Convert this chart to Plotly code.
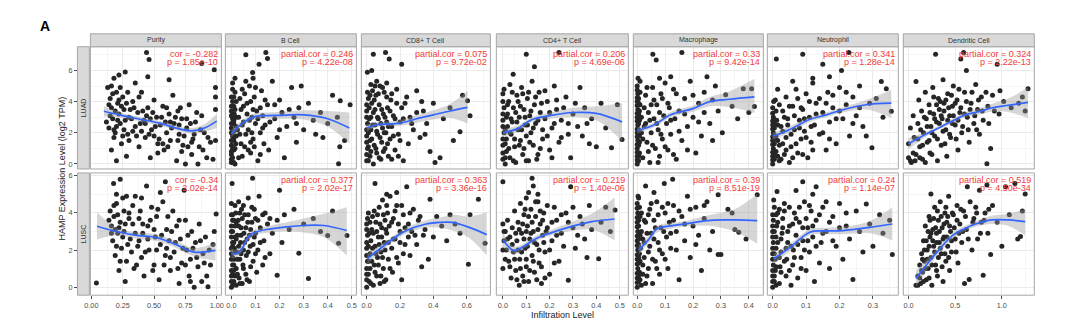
import plotly.graph_objects as go

# ---------------- data ----------------
cell_types = ["Purity", "B Cell", "CD8+ T Cell", "CD4+ T Cell", "Macrophage", "Neutrophil", "Dendritic Cell"]
cancers = ["LUAD", "LUSC"]

x_tickvals = [
    [0, 0.25, 0.5, 0.75, 1.0],
    [0, 0.1, 0.2, 0.3, 0.4, 0.5],
    [0, 0.2, 0.4, 0.6],
    [0, 0.1, 0.2, 0.3, 0.4, 0.5],
    [0, 0.1, 0.2, 0.3, 0.4],
    [0, 0.1, 0.2, 0.3],
    [0, 0.5, 1.0],
]
x_ticktext = [
    ["0.00", "0.25", "0.50", "0.75", "1.00"],
    ["0.0", "0.1", "0.2", "0.3", "0.4", "0.5"],
    ["0.0", "0.2", "0.4", "0.6"],
    ["0.0", "0.1", "0.2", "0.3", "0.4", "0.5"],
    ["0.0", "0.1", "0.2", "0.3", "0.4"],
    ["0.0", "0.1", "0.2", "0.3"],
    ["0.0", "0.5", "1.0"],
]
y_tickvals = [0, 2, 4, 6]
y_ticktext = ["0", "2", "4", "6"]

cor_labels = [
    ["cor = -0.282", "partial.cor = 0.246", "partial.cor = 0.075", "partial.cor = 0.206",
     "partial.cor = 0.33", "partial.cor = 0.341", "partial.cor = 0.324"],
    ["cor = -0.34", "partial.cor = 0.377", "partial.cor = 0.363", "partial.cor = 0.219",
     "partial.cor = 0.39", "partial.cor = 0.24", "partial.cor = 0.519"],
]
p_labels = [
    ["p = 1.85e-10", "p = 4.22e-08", "p = 9.72e-02", "p = 4.69e-06",
     "p = 9.42e-14", "p = 1.28e-14", "p = 2.22e-13"],
    ["p = 2.02e-14", "p = 2.02e-17", "p = 3.36e-16", "p = 1.40e-06",
     "p = 8.51e-19", "p = 1.14e-07", "p = 4.50e-34"],
]

# ---- LUAD scatter points ----
luad_purity_x = [0.44,0.46,0.88,0.98,0.27,0.22,0.45,0.62,0.18,0.35,0.13,0.15,0.16,0.17,0.14,0.18,0.2,0.21,0.22,0.23,0.19,0.24,0.25,0.26,0.27,0.28,0.3,0.29,0.2,0.12,0.16,0.33,0.35,0.37,0.38,0.4,0.42,0.43,0.45,0.47,0.48,0.5,0.52,0.53,0.55,0.57,0.58,0.6,0.62,0.63,0.65,0.66,0.68,0.7,0.69,0.72,0.73,0.75,0.76,0.78,0.8,0.81,0.83,0.85,0.86,0.88,0.9,0.92,0.95,0.97,0.99,0.99,0.99,0.99]
luad_purity_y = [7.15,6.7,6.45,6.05,5.9,5.7,5.6,5.4,5.5,5.2,4.9,4.2,3.6,2.9,2.3,1.7,4.6,3.9,3.2,2.6,2.0,1.3,4.3,3.5,2.8,0.5,3.0,1.9,0.2,2.7,0.9,4.0,2.4,3.3,1.1,4.6,2.8,1.7,3.6,0.4,2.2,4.1,3.0,1.3,2.5,3.7,0.9,2.0,3.2,1.5,4.4,2.6,0.2,1.9,3.4,2.9,1.2,0.0,2.3,3.8,0.6,1.6,2.7,0.0,1.1,3.1,2.0,0.4,1.4,0.3,4.9,4.3,3.5,1.5]
luad_purity_more = [(0.15,3.1),(0.17,4.5),(0.19,3.4),(0.2,2.4),(0.22,4.1),(0.24,3.7),(0.26,2.2),(0.28,3.9),(0.3,1.5),(0.32,2.9),(0.34,3.6),(0.36,1.8),(0.38,4.3),(0.4,2.1),(0.41,3.4),(0.43,2.6),(0.46,1.9),(0.49,3.3),(0.51,2.4),(0.54,1.6),(0.56,3.0),(0.59,2.7),(0.61,1.1),(0.64,2.3),(0.67,3.0),(0.7,2.5),(0.72,0.8),(0.74,1.8),(0.77,1.1),(0.79,2.6),(0.82,1.9),(0.84,3.3),(0.87,2.2),(0.18,2.2),(0.21,2.8),(0.25,1.8),(0.29,4.6),(0.33,2.1),(0.39,2.6),(0.44,3.1),(0.5,1.8),(0.57,1.3),(0.63,2.7),(0.69,1.5),(0.76,2.9),(0.14,3.8),(0.16,5.0),(0.23,4.9),(0.31,3.5),(0.47,2.9),(0.53,0.7),(0.6,3.6),(0.71,3.6),(0.8,1.4),(0.89,0.9),(0.93,1.7)]

luad_bcell_x = [0.0,0.0,0.0,0.005,0.0,0.005,0.0,0.005,0.0,0.01,0.01,0.01,0.01,0.012,0.01,0.015,0.015,0.018,0.02,0.02,0.005,0.015,0.03,0.035,0.04,0.045,0.05,0.055,0.06,0.065,0.07,0.075,0.08,0.085,0.088,0.09,0.095,0.1,0.105,0.11,0.115,0.12,0.125,0.13,0.135,0.14,0.143,0.15,0.15,0.155,0.17,0.18,0.19,0.2,0.21,0.22,0.23,0.25,0.26,0.27,0.28,0.3,0.29,0.32,0.34,0.35,0.37,0.38,0.4,0.42,0.44,0.445,0.45,0.452,0.47,0.493]
luad_bcell_y = [0.1,0.6,1.2,1.8,2.3,2.9,3.4,4.0,0.3,0.9,1.5,2.1,2.6,3.2,3.7,4.6,0.0,1.3,2.4,3.0,5.2,5.5,0.4,1.9,3.5,4.8,2.7,1.1,7.0,3.9,2.2,5.0,0.7,3.0,5.86,1.6,4.3,2.6,3.4,0.2,6.39,2.0,4.7,3.1,1.3,2.5,7.15,6.77,3.8,0.9,5.3,2.9,1.7,4.1,3.3,0.4,2.4,4.9,3.0,1.4,3.6,2.2,5.0,3.9,2.8,1.9,3.3,1.7,2.6,4.4,3.0,0.02,1.1,4.06,1.5,3.8]
luad_bcell_more = [(0.0,0.8),(0.0,1.5),(0.0,2.0),(0.0,2.6),(0.0,3.1),(0.0,3.7),(0.0,4.3),(0.005,0.4),(0.005,1.0),(0.005,2.1),(0.005,3.2),(0.005,4.8),(0.01,0.1),(0.01,1.7),(0.01,2.8),(0.01,4.3),(0.015,1.0),(0.015,3.5),(0.02,1.8),(0.02,4.0),(0.025,2.2),(0.03,3.0),(0.035,4.2),(0.04,1.3),(0.045,2.5),(0.05,3.7),(0.055,4.5),(0.06,1.9),(0.065,3.2),(0.07,0.9),(0.075,2.8),(0.08,4.0),(0.085,2.0),(0.09,3.5),(0.095,1.1),(0.1,4.9),(0.11,2.9),(0.12,3.6),(0.13,2.3),(0.14,4.1),(0.16,2.7),(0.18,3.8),(0.2,2.2),(0.24,3.5),(0.27,2.6),(0.06,5.3),(0.09,5.5),(0.12,0.6),(0.045,0.5),(0.08,1.4)]

luad_cd8_x = [0.0,0.005,0.0,0.005,0.0,0.01,0.004,0.03,0.04,0.02,0.02,0.025,0.025,0.03,0.035,0.04,0.045,0.05,0.05,0.055,0.06,0.065,0.07,0.075,0.08,0.085,0.09,0.095,0.1,0.105,0.11,0.113,0.115,0.12,0.125,0.13,0.135,0.14,0.145,0.15,0.16,0.17,0.18,0.19,0.2,0.21,0.21,0.22,0.24,0.25,0.26,0.28,0.3,0.32,0.34,0.36,0.38,0.4,0.41,0.44,0.46,0.5,0.52,0.56,0.575,0.605,0.62]
luad_cd8_y = [0.2,1.0,1.8,2.6,3.4,4.2,5.88,6.0,7.03,0.5,1.5,2.2,3.0,3.9,4.7,0.0,1.2,2.5,3.5,4.4,0.7,1.9,2.9,3.8,5.0,0.3,1.4,2.3,3.2,4.6,1.0,7.15,2.0,2.7,3.6,0.5,6.73,1.6,4.1,2.4,3.1,0.9,4.8,1.9,2.7,6.39,3.6,0.2,4.3,1.3,3.0,2.2,4.7,1.7,3.4,2.6,0.8,3.9,0.1,0.4,2.9,3.6,1.5,2.06,4.4,4.05,3.1]
luad_cd8_more = [(0.0,0.6),(0.0,1.4),(0.0,2.2),(0.0,3.0),(0.0,3.8),(0.005,4.6),(0.01,0.2),(0.01,1.1),(0.01,2.0),(0.015,2.9),(0.015,3.6),(0.02,4.4),(0.025,0.8),(0.03,1.6),(0.035,2.5),(0.04,3.3),(0.045,4.1),(0.05,5.0),(0.055,1.0),(0.06,2.1),(0.065,3.0),(0.07,4.5),(0.075,0.4),(0.08,1.7),(0.085,2.6),(0.09,3.5),(0.095,4.9),(0.1,0.8),(0.105,2.0),(0.11,3.0),(0.12,4.3),(0.125,1.3),(0.13,2.4),(0.14,3.4),(0.15,0.3),(0.15,4.5),(0.16,1.8),(0.17,2.9),(0.18,3.9),(0.19,0.5),(0.2,1.5),(0.22,2.9),(0.23,3.9),(0.27,2.6),(0.3,3.3),(0.33,4.0),(0.35,1.9),(0.12,5.2),(0.06,5.3),(0.025,5.1)]

luad_cd4_x = [0.0,0.0,0.005,0.0,0.005,0.0,0.01,0.015,0.015,0.02,0.02,0.025,0.03,0.03,0.035,0.04,0.044,0.045,0.05,0.055,0.06,0.065,0.07,0.075,0.08,0.085,0.09,0.095,0.1,0.1,0.105,0.11,0.115,0.12,0.125,0.13,0.135,0.135,0.14,0.15,0.155,0.16,0.17,0.18,0.19,0.2,0.21,0.22,0.23,0.24,0.24,0.25,0.27,0.28,0.29,0.3,0.32,0.33,0.35,0.37,0.38,0.4,0.42,0.44,0.465,0.49,0.51]
luad_cd4_y = [0.3,1.2,2.0,2.8,3.6,4.5,0.0,0.8,1.6,2.4,3.2,4.0,5.1,0.4,1.9,2.7,5.75,3.6,1.1,0.1,4.4,2.2,3.0,1.5,4.9,0.6,3.5,2.5,7.03,1.8,4.2,0.2,3.1,2.0,5.3,1.2,6.24,3.8,2.6,0.6,4.6,3.3,1.6,2.9,4.0,0.9,2.3,5.0,3.5,7.15,1.4,2.8,4.3,1.9,0.4,3.2,2.4,4.9,3.6,1.3,2.9,1.1,3.9,2.3,1.04,3.8,1.57]
luad_cd4_more = [(0.0,0.7),(0.0,1.6),(0.0,2.4),(0.0,3.2),(0.0,4.0),(0.005,4.8),(0.01,0.4),(0.01,1.3),(0.01,2.2),(0.015,3.0),(0.02,3.8),(0.025,1.0),(0.03,2.0),(0.035,2.9),(0.04,4.6),(0.045,0.2),(0.05,1.6),(0.055,3.3),(0.06,2.7),(0.065,4.0),(0.07,1.2),(0.075,3.7),(0.08,2.2),(0.085,4.5),(0.09,1.0),(0.095,3.0),(0.1,0.2),(0.105,2.5),(0.11,4.6),(0.115,1.4),(0.12,3.4),(0.13,2.3),(0.14,4.3),(0.145,0.3),(0.15,2.8),(0.16,1.0),(0.165,3.9),(0.17,2.2),(0.18,4.7),(0.19,1.8),(0.2,3.3),(0.21,0.4),(0.22,2.6),(0.23,4.1),(0.25,1.7),(0.26,3.6),(0.28,2.6),(0.31,3.9),(0.34,1.8),(0.36,2.6)]

luad_mac_x = [0.0,0.0,0.0,0.002,0.0,0.002,0.0,0.002,0.0,0.002,0.0,0.005,0.005,0.005,0.005,0.005,0.008,0.008,0.008,0.01,0.01,0.02,0.025,0.03,0.035,0.04,0.045,0.05,0.056,0.055,0.06,0.065,0.068,0.07,0.075,0.08,0.085,0.09,0.095,0.1,0.105,0.11,0.115,0.12,0.13,0.135,0.14,0.15,0.16,0.16,0.17,0.18,0.19,0.2,0.21,0.22,0.23,0.24,0.25,0.26,0.27,0.28,0.29,0.305,0.317,0.34,0.36,0.38,0.4,0.41,0.42]
luad_mac_y = [0.0,0.5,1.0,1.5,2.0,2.5,3.0,3.5,4.0,4.5,5.0,0.2,1.2,2.2,3.2,4.2,0.7,1.8,2.8,3.8,5.3,0.4,2.4,4.4,1.4,3.3,0.1,2.0,7.03,4.9,2.9,1.0,6.67,3.8,2.2,0.5,4.5,1.6,3.1,5.2,2.6,0.9,3.6,1.9,4.8,2.9,0.3,3.4,7.15,1.5,4.2,2.4,5.3,3.0,0.7,3.9,1.8,4.6,5.6,2.6,4.1,5.0,3.4,2.0,4.44,3.7,2.9,4.82,3.3,4.82,3.69]
luad_mac_more = [(0.0,0.25),(0.0,0.75),(0.0,1.25),(0.0,1.75),(0.0,2.25),(0.0,2.75),(0.0,3.25),(0.0,3.75),(0.0,4.25),(0.0,4.75),(0.003,5.5),(0.005,0.5),(0.005,2.6),(0.005,3.9),(0.008,1.4),(0.008,3.4),(0.01,4.6),(0.015,2.0),(0.015,3.0),(0.02,1.6),(0.025,3.6),(0.03,2.6),(0.035,4.9),(0.04,0.8),(0.045,2.8),(0.05,3.8),(0.055,1.2),(0.06,4.1),(0.07,2.6),(0.075,0.1),(0.08,3.3),(0.085,1.9),(0.09,4.2),(0.1,1.1),(0.11,3.9),(0.12,2.8),(0.13,0.6),(0.14,4.5),(0.15,2.1),(0.17,3.2),(0.18,0.9),(0.2,4.4),(0.22,2.7),(0.24,3.3),(0.27,1.5),(0.12,5.6),(0.08,5.5)]

luad_neu_x = [0.0,0.0,0.002,0.0,0.002,0.0,0.002,0.0,0.005,0.005,0.005,0.008,0.011,0.01,0.01,0.012,0.015,0.02,0.02,0.025,0.03,0.035,0.04,0.04,0.045,0.05,0.055,0.06,0.065,0.07,0.075,0.08,0.085,0.09,0.09,0.095,0.1,0.105,0.11,0.115,0.12,0.125,0.13,0.14,0.15,0.15,0.16,0.165,0.17,0.18,0.19,0.2,0.206,0.21,0.22,0.228,0.23,0.24,0.25,0.26,0.27,0.28,0.29,0.297,0.31,0.325,0.33,0.34,0.355]
luad_neu_y = [0.0,0.5,1.0,1.5,2.0,2.5,3.0,3.6,0.3,1.3,2.3,4.1,6.73,0.8,1.8,2.8,4.8,0.2,1.2,2.4,3.4,0.6,1.7,4.3,2.9,0.1,1.1,3.7,2.2,4.8,0.7,2.8,1.6,7.03,3.5,2.1,4.5,0.4,3.0,1.4,5.2,2.5,3.9,1.9,6.39,3.3,0.9,4.6,2.7,3.6,1.3,4.9,5.99,2.9,3.8,7.15,1.8,4.3,3.1,5.0,2.4,1.8,3.9,1.04,4.2,5.29,3.0,4.82,3.38]
luad_neu_more = [(0.0,0.25),(0.0,0.75),(0.0,1.25),(0.0,1.75),(0.0,2.25),(0.0,2.75),(0.0,3.25),(0.003,4.0),(0.005,0.6),(0.005,1.6),(0.005,2.6),(0.01,3.4),(0.015,0.5),(0.015,1.5),(0.015,2.5),(0.02,3.8),(0.025,0.3),(0.03,1.3),(0.03,2.1),(0.035,3.0),(0.04,0.9),(0.045,2.5),(0.05,3.7),(0.055,1.9),(0.06,0.4),(0.065,3.1),(0.07,1.3),(0.075,4.2),(0.08,2.3),(0.085,3.6),(0.09,0.6),(0.095,2.9),(0.1,1.7),(0.11,4.0),(0.115,2.4),(0.12,0.9),(0.13,3.2),(0.14,4.2),(0.15,2.0),(0.16,3.9),(0.17,1.6),(0.18,4.4),(0.19,2.9),(0.2,3.4),(0.22,4.6),(0.24,2.6),(0.26,3.6),(0.12,5.5),(0.06,5.3),(0.17,5.6)]

luad_dc_x = [0.0,0.0,0.02,0.03,0.05,0.06,0.08,0.08,0.1,0.11,0.12,0.14,0.15,0.16,0.18,0.19,0.2,0.22,0.23,0.24,0.26,0.27,0.28,0.29,0.3,0.31,0.32,0.33,0.35,0.36,0.37,0.38,0.4,0.41,0.42,0.44,0.45,0.47,0.48,0.5,0.52,0.53,0.55,0.56,0.57,0.59,0.6,0.62,0.63,0.65,0.67,0.7,0.72,0.74,0.76,0.78,0.8,0.84,0.85,0.88,0.9,0.95,0.97,1.02,1.1,1.18,1.22,1.25,1.28]
luad_dc_y = [0.4,1.3,2.3,0.1,3.1,1.7,5.29,0.6,2.6,4.1,1.1,3.4,0.3,2.0,4.6,2.9,1.4,3.8,0.7,2.4,4.9,3.2,1.8,7.03,2.7,0.2,4.2,3.5,1.2,2.9,5.4,3.9,2.2,0.5,4.5,3.1,1.7,3.7,5.0,2.5,4.1,0.9,3.3,6.73,2.0,7.15,4.6,5.99,3.0,1.4,3.9,2.6,5.1,3.5,1.9,4.3,2.8,0.02,3.7,1.0,4.4,6.39,3.2,4.0,3.6,3.9,4.3,3.4,4.82]
luad_dc_more = [(0.05,0.7),(0.1,1.6),(0.13,2.2),(0.15,1.2),(0.17,3.0),(0.2,2.4),(0.22,1.5),(0.23,3.3),(0.25,2.0),(0.27,4.3),(0.28,2.9),(0.3,3.8),(0.31,1.6),(0.33,2.6),(0.34,4.0),(0.35,3.1),(0.37,2.1),(0.38,3.4),(0.39,1.3),(0.4,4.1),(0.42,2.8),(0.43,3.6),(0.44,1.9),(0.46,4.4),(0.47,2.6),(0.48,3.1),(0.5,3.9),(0.51,1.6),(0.53,2.8),(0.54,4.8),(0.56,3.6),(0.58,2.4),(0.6,3.2),(0.62,4.0),(0.64,2.2),(0.66,3.5),(0.68,4.6),(0.71,3.1),(0.73,2.2),(0.75,4.1),(0.79,3.4),(0.83,4.6),(0.86,2.6),(0.92,3.4),(0.98,4.7),(0.02,0.2),(0.07,0.2),(0.12,0.4),(0.18,0.1),(0.25,0.6)]

# ---- LUSC scatter points ----
lusc_purity_x = [0.04,0.15,0.16,0.17,0.177,0.18,0.19,0.2,0.21,0.22,0.23,0.23,0.24,0.25,0.26,0.27,0.28,0.3,0.31,0.33,0.34,0.35,0.37,0.38,0.4,0.41,0.42,0.44,0.45,0.46,0.48,0.5,0.51,0.52,0.54,0.55,0.57,0.59,0.59,0.6,0.62,0.63,0.65,0.66,0.68,0.7,0.71,0.72,0.74,0.75,0.76,0.78,0.79,0.8,0.82,0.83,0.85,0.86,0.88,0.89,0.91,0.93,0.95,0.97,0.98,0.995]
lusc_purity_y = [0.23,4.1,3.3,2.5,5.58,3.8,1.7,4.5,2.9,0.9,5.81,3.5,2.1,4.8,3.0,0.3,1.4,4.0,2.6,3.4,1.0,4.9,2.2,3.7,1.6,2.9,0.6,5.45,3.3,2.0,4.3,1.2,2.7,3.8,0.4,2.3,4.6,5.68,1.7,3.1,2.5,0.9,4.1,1.9,3.3,0.2,2.6,1.3,5.22,3.6,2.0,0.6,1.5,3.0,0.0,2.4,1.1,3.4,0.3,1.8,2.7,0.02,1.2,2.3,3.0,3.94]
lusc_purity_more = [(0.14,3.6),(0.16,2.9),(0.18,4.4),(0.19,3.1),(0.2,2.2),(0.21,3.9),(0.22,3.2),(0.23,1.4),(0.25,2.7),(0.26,4.1),(0.27,3.4),(0.29,2.3),(0.3,3.7),(0.32,1.9),(0.33,4.4),(0.35,2.9),(0.36,1.2),(0.38,2.5),(0.39,4.1),(0.41,3.4),(0.43,1.9),(0.45,2.6),(0.47,3.6),(0.49,0.9),(0.5,3.1),(0.52,2.0),(0.53,4.2),(0.56,2.8),(0.58,1.2),(0.6,2.1),(0.61,3.8),(0.63,1.6),(0.64,3.0),(0.67,2.4),(0.69,1.0),(0.7,3.6),(0.73,2.1),(0.75,1.2),(0.77,2.8),(0.79,0.3),(0.81,2.1),(0.84,1.6),(0.87,2.5),(0.9,1.3),(0.92,0.6),(0.94,2.0),(0.2,5.0),(0.28,4.9),(0.4,4.8),(0.55,5.1)]

lusc_bcell_x = [0.0,0.0,0.005,0.0,0.005,0.0,0.005,0.003,0.01,0.01,0.012,0.012,0.015,0.015,0.018,0.02,0.02,0.022,0.025,0.028,0.03,0.032,0.035,0.038,0.04,0.042,0.045,0.048,0.05,0.052,0.055,0.06,0.062,0.065,0.068,0.07,0.075,0.078,0.08,0.085,0.088,0.09,0.095,0.1,0.105,0.11,0.115,0.12,0.13,0.135,0.14,0.15,0.16,0.17,0.19,0.19,0.2,0.21,0.22,0.24,0.26,0.28,0.3,0.32,0.34,0.37,0.4,0.42,0.445,0.48]
lusc_bcell_y = [0.0,0.6,1.2,1.8,2.4,3.0,3.6,5.58,0.3,0.9,1.5,2.1,2.7,3.3,4.0,0.1,1.0,1.9,2.8,3.6,4.6,0.5,1.5,2.4,3.2,4.2,0.2,1.2,2.0,2.9,3.9,0.7,1.7,2.6,3.5,4.8,0.3,2.2,3.1,4.3,5.87,1.4,2.7,3.7,0.8,2.0,4.9,3.2,1.2,2.5,4.0,3.4,1.8,2.9,0.64,3.6,5.22,2.4,3.9,3.1,4.2,1.83,3.4,0.47,3.7,3.0,2.78,4.1,2.37,2.78]
lusc_bcell_more = [(0.0,0.3),(0.0,0.9),(0.0,1.5),(0.0,2.1),(0.0,2.7),(0.0,3.3),(0.0,3.9),(0.0,4.5),(0.005,0.1),(0.005,0.7),(0.005,1.6),(0.005,2.2),(0.005,3.0),(0.005,3.9),(0.01,1.2),(0.01,2.4),(0.01,3.6),(0.015,0.6),(0.015,1.9),(0.015,4.4),(0.02,2.6),(0.02,3.5),(0.025,0.7),(0.025,1.5),(0.03,2.2),(0.03,3.3),(0.035,0.2),(0.035,4.0),(0.04,1.8),(0.04,2.8),(0.045,3.7),(0.05,1.0),(0.05,4.4),(0.055,2.4),(0.06,3.2),(0.065,0.4),(0.07,1.9),(0.07,3.9),(0.075,2.8),(0.08,1.1),(0.085,3.5),(0.09,2.3),(0.095,4.2),(0.1,1.8),(0.1,2.9),(0.11,3.6),(0.12,2.4),(0.13,3.9),(0.14,1.6),(0.16,3.7)]

lusc_cd8_x = [0.0,0.0,0.005,0.0,0.005,0.0,0.01,0.015,0.02,0.02,0.025,0.03,0.035,0.04,0.045,0.05,0.05,0.055,0.06,0.065,0.07,0.075,0.08,0.085,0.09,0.095,0.1,0.105,0.11,0.115,0.12,0.125,0.13,0.135,0.14,0.15,0.155,0.16,0.17,0.18,0.19,0.2,0.21,0.22,0.23,0.24,0.25,0.26,0.28,0.29,0.31,0.33,0.35,0.37,0.38,0.4,0.42,0.45,0.48,0.5,0.53,0.56,0.61,0.62,0.67,0.71]
lusc_cd8_y = [0.0,0.7,1.4,2.1,2.8,3.4,4.0,0.3,1.0,1.8,2.5,3.1,3.8,0.1,1.2,5.58,2.2,3.5,0.6,1.6,2.7,4.3,0.2,1.9,3.2,4.7,1.0,2.4,3.6,0.4,2.9,4.0,1.5,3.3,4.9,2.1,0.8,3.7,2.6,4.4,1.3,3.0,0.4,3.9,2.3,5.4,3.4,1.7,4.2,2.8,3.6,1.1,3.1,1.5,4.74,2.7,3.8,3.3,2.5,3.9,3.4,2.9,1.23,3.9,4.74,2.37]
lusc_cd8_more = [(0.0,0.4),(0.0,1.0),(0.0,1.7),(0.0,2.4),(0.0,3.1),(0.005,3.7),(0.01,0.7),(0.01,1.4),(0.01,2.2),(0.015,2.9),(0.02,3.5),(0.025,0.2),(0.03,1.4),(0.035,2.1),(0.04,2.9),(0.045,4.1),(0.05,0.8),(0.055,1.8),(0.06,3.0),(0.065,3.9),(0.07,1.2),(0.075,2.3),(0.08,3.4),(0.085,0.6),(0.09,2.7),(0.095,1.6),(0.1,3.9),(0.105,0.3),(0.11,2.0),(0.115,3.1),(0.12,4.4),(0.13,2.4),(0.14,1.0),(0.15,3.5),(0.16,2.6),(0.17,4.1),(0.18,1.6),(0.19,3.4),(0.2,2.4),(0.21,4.4),(0.22,1.8),(0.23,3.2),(0.25,2.7),(0.26,4.0),(0.27,3.0),(0.3,2.3),(0.32,3.8),(0.34,2.8),(0.12,5.0),(0.18,5.1)]

lusc_cd4_x = [0.0,0.0,0.005,0.0,0.01,0.015,0.02,0.025,0.03,0.035,0.04,0.045,0.05,0.055,0.06,0.065,0.07,0.072,0.075,0.08,0.085,0.09,0.095,0.1,0.1,0.105,0.11,0.115,0.12,0.125,0.125,0.13,0.13,0.135,0.14,0.145,0.15,0.155,0.16,0.165,0.17,0.175,0.18,0.19,0.2,0.21,0.22,0.23,0.24,0.25,0.27,0.28,0.29,0.3,0.31,0.33,0.35,0.37,0.38,0.41,0.42,0.44,0.46,0.48]
lusc_cd4_y = [5.68,3.4,2.5,1.0,3.0,2.0,3.6,1.4,2.7,0.5,3.2,1.9,4.1,0.9,2.5,3.5,0.1,1.5,4.5,2.9,0.6,3.9,2.1,1.1,4.8,3.3,0.3,2.6,4.2,5.87,1.7,5.45,3.0,0.8,3.8,2.3,4.6,1.3,3.4,0.2,2.8,4.0,1.9,3.2,0.7,2.5,4.3,3.6,1.4,2.9,4.0,0.37,5.4,3.2,2.1,3.8,2.6,4.4,3.1,1.53,3.5,4.3,3.0,4.15]
lusc_cd4_more = [(0.0,2.0),(0.005,3.0),(0.01,1.5),(0.02,2.6),(0.03,1.1),(0.04,2.3),(0.05,1.5),(0.055,2.9),(0.06,0.4),(0.065,2.0),(0.07,3.1),(0.075,1.0),(0.08,1.9),(0.085,3.4),(0.09,0.3),(0.09,2.6),(0.095,4.2),(0.1,1.5),(0.1,3.0),(0.105,2.2),(0.11,3.8),(0.115,0.9),(0.12,2.9),(0.125,3.5),(0.13,1.4),(0.135,2.4),(0.14,4.6),(0.145,0.4),(0.15,3.1),(0.155,2.0),(0.16,4.1),(0.165,1.1),(0.17,3.6),(0.175,2.4),(0.18,0.5),(0.185,3.0),(0.19,4.4),(0.2,2.0),(0.21,3.5),(0.22,1.3),(0.23,2.8),(0.25,3.9),(0.26,2.2),(0.28,3.5),(0.3,4.3),(0.32,2.8),(0.34,3.4),(0.36,1.6),(0.15,5.0),(0.11,5.1)]

lusc_mac_x = [0.0,0.0,0.002,0.0,0.002,0.0,0.002,0.0,0.002,0.0,0.005,0.005,0.005,0.005,0.005,0.008,0.008,0.01,0.01,0.015,0.02,0.025,0.03,0.03,0.035,0.04,0.045,0.05,0.055,0.06,0.065,0.07,0.075,0.08,0.085,0.09,0.097,0.1,0.105,0.11,0.115,0.12,0.127,0.13,0.14,0.15,0.16,0.17,0.18,0.19,0.2,0.21,0.22,0.23,0.24,0.25,0.27,0.29,0.29,0.3,0.325,0.34,0.35,0.364,0.39,0.43]
lusc_mac_y = [0.0,0.5,1.0,1.5,2.0,2.5,3.0,3.5,4.0,4.5,0.3,1.3,2.3,3.3,4.8,0.8,1.8,2.8,3.8,0.1,1.2,2.4,5.45,3.5,0.6,1.9,4.2,2.9,0.2,3.6,1.4,4.6,2.4,0.7,3.2,1.8,5.58,4.0,2.7,1.0,3.5,2.1,5.81,4.4,3.0,0.4,3.8,2.5,4.9,1.6,3.3,4.3,2.8,0.9,3.7,4.6,3.0,4.97,1.76,1.76,4.2,4.0,3.1,2.96,2.6,4.97]
lusc_mac_more = [(0.0,0.25),(0.0,0.75),(0.0,1.25),(0.0,1.75),(0.0,2.25),(0.0,2.75),(0.0,3.25),(0.0,3.75),(0.0,4.25),(0.003,4.9),(0.005,0.6),(0.005,1.6),(0.005,2.6),(0.005,3.6),(0.008,4.3),(0.01,0.4),(0.01,1.4),(0.012,2.1),(0.015,3.0),(0.015,4.0),(0.02,0.7),(0.02,2.6),(0.025,1.6),(0.025,3.6),(0.03,0.2),(0.035,2.9),(0.04,1.0),(0.04,3.9),(0.045,2.2),(0.05,4.5),(0.055,1.5),(0.06,2.6),(0.065,3.2),(0.07,1.0),(0.075,3.9),(0.08,2.0),(0.09,4.3),(0.095,3.0),(0.1,1.5),(0.11,4.5),(0.12,2.9),(0.13,3.6),(0.14,2.0),(0.15,4.1),(0.17,3.4),(0.19,4.2),(0.21,2.3),(0.24,4.4),(0.26,2.0),(0.06,5.1)]

lusc_neu_x = [0.0,0.0,0.002,0.0,0.002,0.0,0.002,0.005,0.005,0.008,0.008,0.01,0.01,0.013,0.012,0.015,0.02,0.022,0.025,0.028,0.03,0.035,0.04,0.042,0.045,0.05,0.055,0.06,0.062,0.065,0.07,0.075,0.08,0.085,0.09,0.09,0.095,0.1,0.105,0.11,0.115,0.12,0.125,0.13,0.13,0.14,0.145,0.15,0.16,0.17,0.18,0.19,0.2,0.21,0.22,0.23,0.24,0.25,0.26,0.27,0.28,0.29,0.3,0.32,0.33,0.35,0.358]
lusc_neu_y = [0.0,0.6,1.2,1.8,2.4,3.0,3.6,4.3,0.3,0.9,1.5,2.1,2.7,5.15,3.3,4.0,0.2,1.1,1.9,2.9,3.7,4.5,0.6,1.5,2.4,3.3,0.1,1.2,2.0,4.0,2.8,0.5,3.5,1.6,5.68,2.5,4.6,0.9,3.2,1.9,4.1,2.7,0.3,5.4,3.6,1.3,2.4,4.3,3.0,1.0,3.8,2.2,4.5,1.5,3.3,2.6,0.41,4.1,3.0,1.9,4.48,3.4,2.2,3.9,2.9,3.6,1.76]
lusc_neu_more = [(0.0,0.3),(0.0,0.9),(0.0,1.5),(0.0,2.1),(0.0,2.7),(0.0,3.3),(0.0,3.9),(0.003,4.7),(0.005,0.6),(0.005,1.8),(0.005,3.0),(0.01,0.1),(0.01,1.1),(0.01,3.9),(0.015,2.4),(0.015,3.5),(0.02,1.6),(0.02,4.2),(0.025,0.8),(0.025,2.6),(0.03,3.2),(0.035,1.4),(0.035,4.1),(0.04,2.1),(0.045,3.0),(0.05,0.9),(0.05,4.3),(0.055,2.2),(0.06,3.4),(0.065,1.6),(0.07,3.7),(0.075,2.3),(0.08,4.3),(0.085,1.0),(0.09,3.2),(0.095,2.0),(0.1,3.7),(0.105,2.5),(0.11,4.4),(0.12,3.3),(0.13,2.2),(0.14,3.9),(0.15,2.9),(0.16,4.6),(0.17,3.5),(0.18,2.5),(0.2,3.2),(0.22,4.0),(0.12,5.0),(0.07,5.2)]

lusc_dc_x = [0.08,0.1,0.12,0.13,0.14,0.15,0.16,0.17,0.18,0.19,0.2,0.21,0.22,0.23,0.24,0.24,0.25,0.26,0.27,0.28,0.29,0.3,0.31,0.32,0.33,0.34,0.35,0.36,0.37,0.38,0.39,0.4,0.41,0.42,0.43,0.44,0.45,0.46,0.48,0.5,0.52,0.53,0.55,0.57,0.59,0.6,0.62,0.63,0.65,0.66,0.68,0.7,0.72,0.74,0.76,0.78,0.8,0.82,0.84,0.85,0.88,0.9,0.95,1.0,1.04,1.08,1.14,1.17,1.2,1.22,1.25]
lusc_dc_y = [0.1,0.6,1.2,0.2,1.8,0.8,2.5,1.4,3.3,0.4,2.0,1.0,3.8,2.7,5.01,1.6,0.1,3.1,2.2,4.3,1.2,2.9,0.6,3.6,2.4,4.6,1.8,3.2,0.3,2.7,4.0,1.4,3.5,2.2,4.9,0.9,3.0,1.9,3.9,2.6,4.4,1.3,3.4,2.4,4.1,0.2,3.1,5.4,0.41,4.6,2.0,3.7,4.3,2.6,5.22,3.5,0.64,4.0,5.5,2.9,1.76,4.4,3.5,2.2,5.4,3.9,5.58,2.6,2.73,4.1,5.01]
lusc_dc_more = [(0.1,0.1),(0.12,0.5),(0.14,0.9),(0.15,1.5),(0.16,0.3),(0.17,2.0),(0.18,1.0),(0.19,2.5),(0.2,1.5),(0.21,3.0),(0.22,0.5),(0.22,2.2),(0.23,3.6),(0.24,2.9),(0.25,1.2),(0.26,2.5),(0.27,3.7),(0.28,1.9),(0.29,3.2),(0.3,0.9),(0.3,2.4),(0.31,4.1),(0.32,1.6),(0.33,3.0),(0.34,2.1),(0.35,3.8),(0.36,1.1),(0.37,2.6),(0.38,3.4),(0.39,1.8),(0.4,4.3),(0.41,2.7),(0.42,3.8),(0.43,1.6),(0.44,3.3),(0.46,2.5),(0.47,4.0),(0.49,3.2),(0.51,1.9),(0.52,3.6),(0.54,2.9),(0.56,4.2),(0.58,3.0),(0.61,3.8),(0.64,2.6),(0.69,3.5),(0.73,4.0),(0.77,2.9),(0.81,3.6),(0.86,4.2)]

# ---- loess fits (x, fit, lower, upper) ----
luad_purity_fx = [0.1,0.25,0.4,0.55,0.7,0.8,0.9,1.0]
luad_purity_fy = [3.38,3.1,2.85,2.6,2.25,2.12,2.3,2.75]
luad_purity_lo = [3.05,2.95,2.7,2.45,2.1,1.94,2.05,2.3]
luad_purity_hi = [3.7,3.25,3.0,2.75,2.4,2.3,2.55,3.2]

luad_bcell_fx = [0.0,0.05,0.1,0.15,0.2,0.3,0.4,0.49]
luad_bcell_fy = [1.95,2.65,3.05,3.1,3.12,3.15,2.9,2.3]
luad_bcell_lo = [1.7,2.45,2.85,2.9,2.9,2.85,2.4,1.3]
luad_bcell_hi = [2.2,2.85,3.25,3.3,3.35,3.45,3.4,3.3]

luad_cd8_fx = [0.0,0.05,0.1,0.2,0.3,0.4,0.5,0.605]
luad_cd8_fy = [2.3,2.5,2.55,2.62,2.9,3.15,3.4,3.63]
luad_cd8_lo = [2.05,2.35,2.4,2.45,2.65,2.85,2.95,2.6]
luad_cd8_hi = [2.55,2.65,2.7,2.8,3.15,3.45,3.85,4.7]

luad_cd4_fx = [0.0,0.06,0.125,0.2,0.3,0.4,0.51]
luad_cd4_fy = [2.0,2.25,2.85,3.1,3.3,3.25,2.7]
luad_cd4_lo = [1.75,2.05,2.7,2.9,3.0,2.8,1.46]
luad_cd4_hi = [2.25,2.45,3.0,3.3,3.6,3.7,3.9]

luad_mac_fx = [0.0,0.06,0.12,0.2,0.26,0.33,0.42]
luad_mac_fy = [2.15,2.5,3.16,3.55,4.0,4.15,4.3]
luad_mac_lo = [1.95,2.35,3.0,3.35,3.7,3.65,3.27]
luad_mac_hi = [2.35,2.65,3.35,3.75,4.3,4.65,5.46]

luad_neu_fx = [0.0,0.05,0.11,0.16,0.21,0.28,0.355]
luad_neu_fy = [1.78,2.2,2.85,3.15,3.48,3.8,3.9]
luad_neu_lo = [1.55,2.0,2.7,3.0,3.3,3.5,2.95]
luad_neu_hi = [2.0,2.4,3.0,3.3,3.65,4.1,4.76]

luad_dc_fx = [0.0,0.2,0.36,0.5,0.61,0.75,0.89,1.05,1.28]
luad_dc_fy = [1.29,1.95,2.42,2.85,3.16,3.35,3.59,3.75,3.95]
luad_dc_lo = [0.95,1.8,2.3,2.7,3.0,3.15,3.35,3.35,2.95]
luad_dc_hi = [1.65,2.1,2.55,3.0,3.32,3.55,3.85,4.15,4.9]

lusc_purity_fx = [0.045,0.2,0.375,0.5,0.6,0.69,0.82,0.99]
lusc_purity_fy = [3.28,3.0,2.78,2.7,2.5,2.25,1.89,1.98]
lusc_purity_lo = [2.57,2.8,2.6,2.52,2.32,2.05,1.65,1.44]
lusc_purity_hi = [4.03,3.2,2.95,2.88,2.68,2.45,2.1,2.4]

lusc_bcell_fx = [0.0,0.022,0.05,0.074,0.11,0.164,0.23,0.3,0.383,0.479]
lusc_bcell_fy = [1.83,1.8,2.2,2.78,3.0,3.14,3.25,3.32,3.32,3.05]
lusc_bcell_lo = [1.55,1.6,2.0,2.6,2.85,2.95,3.0,2.95,2.7,1.71]
lusc_bcell_hi = [2.1,2.0,2.4,2.95,3.15,3.33,3.5,3.7,3.95,4.3]

lusc_cd8_fx = [0.004,0.119,0.218,0.357,0.44,0.516,0.615,0.72]
lusc_cd8_fy = [1.53,2.34,2.96,3.4,3.49,3.49,3.22,2.83]
lusc_cd8_lo = [1.25,2.15,2.8,3.2,3.2,3.05,2.65,1.71]
lusc_cd8_hi = [1.8,2.5,3.12,3.6,3.75,3.9,3.8,4.03]

lusc_cd4_fx = [0.0,0.047,0.09,0.139,0.2,0.28,0.38,0.478]
lusc_cd4_fy = [2.55,1.98,2.2,2.6,2.9,3.22,3.53,3.67]
lusc_cd4_lo = [2.15,1.75,2.05,2.45,2.75,3.0,3.1,2.51]
lusc_cd4_hi = [2.95,2.2,2.35,2.75,3.05,3.45,3.95,4.83]

lusc_mac_fx = [0.005,0.04,0.071,0.12,0.168,0.263,0.35,0.43]
lusc_mac_fy = [2.01,2.55,3.14,3.3,3.4,3.6,3.62,3.58]
lusc_mac_lo = [1.75,2.35,2.95,3.15,3.25,3.3,3.0,2.34]
lusc_mac_hi = [2.25,2.75,3.3,3.45,3.55,3.9,4.2,5.01]

lusc_neu_fx = [0.003,0.053,0.111,0.16,0.21,0.29,0.358]
lusc_neu_fy = [1.53,2.16,2.96,3.03,3.05,3.22,3.4]
lusc_neu_lo = [1.25,1.95,2.8,2.85,2.85,2.9,2.51]
lusc_neu_hi = [1.8,2.35,3.12,3.2,3.25,3.55,4.3]

lusc_dc_fx = [0.08,0.29,0.47,0.6,0.72,0.89,1.07,1.25]
lusc_dc_fy = [0.47,1.8,2.78,3.15,3.4,3.62,3.62,3.53]
lusc_dc_lo = [0.02,1.6,2.6,3.0,3.25,3.4,3.3,2.78]
lusc_dc_hi = [0.9,2.0,2.95,3.3,3.55,3.85,3.95,4.21]

points = [
    [(luad_purity_x, luad_purity_y, luad_purity_more), (luad_bcell_x, luad_bcell_y, luad_bcell_more),
     (luad_cd8_x, luad_cd8_y, luad_cd8_more), (luad_cd4_x, luad_cd4_y, luad_cd4_more),
     (luad_mac_x, luad_mac_y, luad_mac_more), (luad_neu_x, luad_neu_y, luad_neu_more),
     (luad_dc_x, luad_dc_y, luad_dc_more)],
    [(lusc_purity_x, lusc_purity_y, lusc_purity_more), (lusc_bcell_x, lusc_bcell_y, lusc_bcell_more),
     (lusc_cd8_x, lusc_cd8_y, lusc_cd8_more), (lusc_cd4_x, lusc_cd4_y, lusc_cd4_more),
     (lusc_mac_x, lusc_mac_y, lusc_mac_more), (lusc_neu_x, lusc_neu_y, lusc_neu_more),
     (lusc_dc_x, lusc_dc_y, lusc_dc_more)],
]
fits = [
    [(luad_purity_fx, luad_purity_fy, luad_purity_lo, luad_purity_hi),
     (luad_bcell_fx, luad_bcell_fy, luad_bcell_lo, luad_bcell_hi),
     (luad_cd8_fx, luad_cd8_fy, luad_cd8_lo, luad_cd8_hi),
     (luad_cd4_fx, luad_cd4_fy, luad_cd4_lo, luad_cd4_hi),
     (luad_mac_fx, luad_mac_fy, luad_mac_lo, luad_mac_hi),
     (luad_neu_fx, luad_neu_fy, luad_neu_lo, luad_neu_hi),
     (luad_dc_fx, luad_dc_fy, luad_dc_lo, luad_dc_hi)],
    [(lusc_purity_fx, lusc_purity_fy, lusc_purity_lo, lusc_purity_hi),
     (lusc_bcell_fx, lusc_bcell_fy, lusc_bcell_lo, lusc_bcell_hi),
     (lusc_cd8_fx, lusc_cd8_fy, lusc_cd8_lo, lusc_cd8_hi),
     (lusc_cd4_fx, lusc_cd4_fy, lusc_cd4_lo, lusc_cd4_hi),
     (lusc_mac_fx, lusc_mac_fy, lusc_mac_lo, lusc_mac_hi),
     (lusc_neu_fx, lusc_neu_fy, lusc_neu_lo, lusc_neu_hi),
     (lusc_dc_fx, lusc_dc_fy, lusc_dc_lo, lusc_dc_hi)],
]

# ---------------- layout geometry (pixels) ----------------
W, H = 1080, 326
col_left = [85, 221, 358, 494, 632, 767, 904]
col_right = [217, 353, 488, 627, 763, 899, 1036]
row_top = [45, 172]
row_bot = [168, 295]
strip_top, strip_bot = 32, 45
rstrip_l, rstrip_r = 72, 84
x_ranges = [[-0.008, 1.037], [-0.025, 0.519], [-0.032, 0.742], [-0.028, 0.537],
            [-0.014, 0.452], [-0.016, 0.376], [-0.056, 1.348]]
x_minor = [0.125, 0.05, 0.1, 0.05, 0.05, 0.05, 0.25]
y_ranges = [[-0.32, 7.52], [-0.43, 6.15]]

FONT = "Liberation Sans, Arial, sans-serif"
PT = "#262626"
BORDER = "#A6A6A6"
GRID = "#EBEBEB"
GRID_MINOR = "#F5F5F5"
RED = "#F23A3A"

def px(v):
    return v / W

def py(v):
    return 1 - v / H

fig = go.Figure()
layout = {}
shapes = []
annotations = []

for r in range(2):
    for c in range(7):
        k = r * 7 + c + 1
        xa = "x" if k == 1 else f"x{k}"
        ya = "y" if k == 1 else f"y{k}"
        bx, by, more = points[r][c]
        xs = list(bx) + [p[0] for p in more]
        ys = list(by) + [p[1] for p in more]
        fx, fy, lo, hi = fits[r][c]
        fig.add_trace(go.Scatter(x=xs, y=ys, mode="markers", xaxis=xa, yaxis=ya,
                                 marker=dict(size=5, color=PT, line=dict(width=0)),
                                 hoverinfo="skip"))
        fig.add_trace(go.Scatter(x=fx, y=hi, mode="lines", xaxis=xa, yaxis=ya,
                                 line=dict(width=0, shape="spline", smoothing=1.0),
                                 hoverinfo="skip"))
        fig.add_trace(go.Scatter(x=fx, y=lo, mode="lines", xaxis=xa, yaxis=ya,
                                 line=dict(width=0, shape="spline", smoothing=1.0),
                                 fill="tonexty", fillcolor="rgba(153,153,153,0.4)",
                                 hoverinfo="skip"))
        fig.add_trace(go.Scatter(x=fx, y=fy, mode="lines", xaxis=xa, yaxis=ya,
                                 line=dict(width=1.7, color="#3366FF", shape="spline", smoothing=1.0),
                                 hoverinfo="skip"))

        xkey = "xaxis" if k == 1 else f"xaxis{k}"
        ykey = "yaxis" if k == 1 else f"yaxis{k}"
        bottom = (r == 1)
        layout[xkey] = dict(
            domain=[px(col_left[c]), px(col_right[c])], anchor=ya, range=x_ranges[c],
            tickmode="array", tickvals=x_tickvals[c], ticktext=x_ticktext[c],
            showticklabels=bottom, ticks="outside" if bottom else "", ticklen=3,
            tickcolor="#4D4D4D", tickfont=dict(size=7.3, color="#4D4D4D", family=FONT),
            showgrid=True, gridcolor=GRID, gridwidth=1, zeroline=False, showline=False,
            minor=dict(dtick=x_minor[c], tick0=0, showgrid=True, gridcolor=GRID_MINOR, gridwidth=0.6),
            fixedrange=True,
        )
        ydict = dict(
            domain=[py(row_bot[r]), py(row_top[r])], range=y_ranges[r],
            tickmode="array", tickvals=y_tickvals, ticktext=y_ticktext,
            showgrid=True, gridcolor=GRID, gridwidth=1, zeroline=False, showline=False,
            minor=dict(dtick=1, tick0=1, showgrid=True, gridcolor=GRID_MINOR, gridwidth=0.6),
            tickfont=dict(size=7.3, color="#4D4D4D", family=FONT), fixedrange=True,
        )
        if c == 0:
            ydict.update(anchor="free", position=px(rstrip_l - 0.5),
                         showticklabels=True, ticks="outside", ticklen=3, tickcolor="#4D4D4D")
        else:
            ydict.update(anchor=xa, showticklabels=False, ticks="")
        layout[ykey] = ydict

        # panel border
        shapes.append(dict(type="rect", xref="paper", yref="paper",
                           x0=px(col_left[c]), x1=px(col_right[c]),
                           y0=py(row_bot[r]), y1=py(row_top[r]),
                           line=dict(color=BORDER, width=1), fillcolor="rgba(0,0,0,0)", layer="above"))
        # correlation text
        annotations.append(dict(x=px(col_right[c] - 1), y=py(row_top[r] + 7), xref="paper", yref="paper",
                                text=cor_labels[r][c], showarrow=False, xanchor="right", yanchor="middle",
                                font=dict(size=9, color=RED, family=FONT)))
        annotations.append(dict(x=px(col_right[c] - 1), y=py(row_top[r] + 15.5), xref="paper", yref="paper",
                                text=p_labels[r][c], showarrow=False, xanchor="right", yanchor="middle",
                                font=dict(size=9, color=RED, family=FONT)))

# column strips
for c in range(7):
    shapes.append(dict(type="rect", xref="paper", yref="paper",
                       x0=px(col_left[c]), x1=px(col_right[c]), y0=py(strip_bot), y1=py(strip_top),
                       line=dict(color=BORDER, width=1), fillcolor="#D9D9D9", layer="above"))
    annotations.append(dict(x=px((col_left[c] + col_right[c]) / 2), y=py((strip_top + strip_bot) / 2),
                            xref="paper", yref="paper", text=cell_types[c], showarrow=False,
                            xanchor="center", yanchor="middle",
                            font=dict(size=7, color="#333333", family=FONT)))
# row strips
for r in range(2):
    shapes.append(dict(type="rect", xref="paper", yref="paper",
                       x0=px(rstrip_l), x1=px(rstrip_r), y0=py(row_bot[r]), y1=py(row_top[r]),
                       line=dict(color=BORDER, width=1), fillcolor="#D9D9D9", layer="above"))
    annotations.append(dict(x=px((rstrip_l + rstrip_r) / 2), y=py((row_top[r] + row_bot[r]) / 2),
                            xref="paper", yref="paper", text=cancers[r], showarrow=False, textangle=-90,
                            xanchor="center", yanchor="middle",
                            font=dict(size=7, color="#333333", family=FONT)))

# titles
annotations.append(dict(x=px(56), y=py(168), xref="paper", yref="paper",
                        text="HAMP Expression Level (log2 TPM)", showarrow=False, textangle=-90,
                        xanchor="center", yanchor="middle", font=dict(size=9, color="#222222", family=FONT)))
annotations.append(dict(x=px(561), y=py(315), xref="paper", yref="paper",
                        text="Infiltration Level", showarrow=False,
                        xanchor="center", yanchor="middle", font=dict(size=9, color="#222222", family=FONT)))
annotations.append(dict(x=px(39.5), y=py(24), xref="paper", yref="paper",
                        text="<b>A</b>", showarrow=False,
                        xanchor="center", yanchor="middle", font=dict(size=14, color="#000000", family=FONT)))

fig.update_layout(width=W, height=H, margin=dict(l=0, r=0, t=0, b=0),
                  paper_bgcolor="white", plot_bgcolor="white", showlegend=False,
                  shapes=shapes, annotations=annotations, **layout)

fig.write_html("out.html")
